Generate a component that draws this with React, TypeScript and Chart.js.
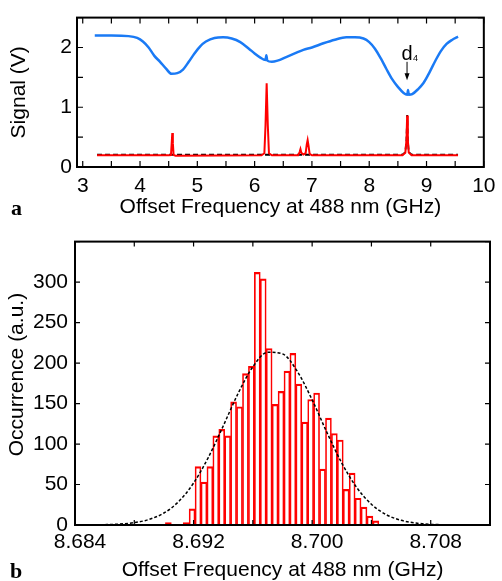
import React, { useEffect, useRef } from 'react';
import { Chart, registerables } from 'chart.js';
Chart.register(...registerables);

const FONT = '"Liberation Sans", Arial, Helvetica, sans-serif';
const SERIF = '"Liberation Serif", "Times New Roman", serif';
const BLUE = '#1a7af5';
const RED = '#ff0000';

// ---------- Panel a ----------
const blueX = [3.21, 3.5, 3.8, 3.95, 4.05, 4.15, 4.25, 4.35, 4.45, 4.55, 4.65, 4.75, 4.85, 4.95, 5.05, 5.15, 5.3, 5.45, 5.6, 5.75, 5.9, 6.0, 6.1, 6.19, 6.205, 6.22, 6.3, 6.4, 6.55, 6.7, 6.85, 7.0, 7.2, 7.4, 7.6, 7.75, 7.9, 8.0, 8.1, 8.2, 8.3, 8.4, 8.5, 8.6, 8.665, 8.677, 8.69, 8.75, 8.85, 8.95, 9.05, 9.15, 9.25, 9.35, 9.45, 9.55];
const blueY = [2.20, 2.20, 2.19, 2.16, 2.10, 2.00, 1.86, 1.76, 1.65, 1.56, 1.57, 1.63, 1.76, 1.90, 2.02, 2.10, 2.16, 2.17, 2.15, 2.09, 1.98, 1.90, 1.83, 1.79, 1.87, 1.78, 1.76, 1.78, 1.84, 1.90, 1.96, 2.00, 2.07, 2.13, 2.17, 2.17, 2.15, 2.09, 1.98, 1.82, 1.64, 1.47, 1.34, 1.24, 1.21, 1.29, 1.21, 1.22, 1.30, 1.41, 1.58, 1.77, 1.94, 2.06, 2.13, 2.18];

const redX = [3.25, 4.50, 4.54, 4.553, 4.563, 4.573, 4.586, 4.62, 6.12, 6.17, 6.19, 6.21, 6.23, 6.25, 6.30, 6.76, 6.785, 6.80, 6.815, 6.85, 6.89, 6.91, 6.925, 6.94, 6.96, 7.00, 8.58, 8.63, 8.65, 8.662, 8.674, 8.69, 8.74, 9.55];
const redY = [0.195, 0.195, 0.20, 0.40, 0.57, 0.40, 0.20, 0.19, 0.195, 0.23, 0.70, 1.40, 0.70, 0.23, 0.195, 0.195, 0.25, 0.30, 0.24, 0.21, 0.23, 0.38, 0.45, 0.36, 0.22, 0.195, 0.195, 0.24, 0.45, 0.86, 0.45, 0.24, 0.195, 0.195];

const blackX = [3.25, 8.58, 8.63, 8.65, 8.662, 8.674, 8.69, 8.74, 9.55];
const blackY = [0.205, 0.205, 0.25, 0.45, 0.87, 0.45, 0.25, 0.205, 0.205];

const topXTicks = [3, 3.5, 4, 4.5, 5, 5.5, 6, 6.5, 7, 7.5, 8, 8.5, 9, 9.5, 10];
const topXLabels = [3, 4, 5, 6, 7, 8, 9, 10];
const topYTicks = [0, 0.5, 1, 1.5, 2, 2.5];
const topYLabels = [0, 1, 2];

const annotX = 8.66;
const annotTextY = 1.79;
const arrowFromY = 1.76;
const arrowToY = 1.45;

// ---------- Panel b ----------
const binCenters = [8.6903, 8.6907, 8.6911, 8.6915, 8.6919, 8.6923, 8.6927, 8.6931, 8.6935, 8.6939, 8.6943, 8.6947, 8.6951, 8.6955, 8.6959, 8.6963, 8.6967, 8.6971, 8.6975, 8.6979, 8.6983, 8.6987, 8.6991, 8.6995, 8.6999, 8.7003, 8.7007, 8.7011, 8.7015, 8.7019, 8.7023, 8.7027, 8.7031, 8.7035, 8.7039, 8.7043];
const binCounts = [3, 0, 0, 3, 20, 72, 53, 72, 110, 118, 110, 152, 146, 187, 196, 312, 304, 218, 149, 165, 190, 212, 174, 127, 155, 163, 69, 132, 113, 105, 44, 64, 33, 22, 11, 5];

const fitX = [8.684, 8.685, 8.686, 8.687, 8.688, 8.689, 8.690, 8.691, 8.692, 8.693, 8.694, 8.695, 8.696, 8.697, 8.698, 8.699, 8.700, 8.701, 8.702, 8.703, 8.704, 8.705, 8.706, 8.707, 8.708, 8.709, 8.710, 8.711, 8.712];
const fitY = [0.03, 0.12, 0.4, 1.1, 2.9, 6.9, 14.8, 29.1, 51.8, 83.6, 122.3, 162.3, 195.4, 213.3, 211.3, 189.7, 154.6, 114.2, 76.5, 46.5, 25.6, 12.8, 5.8, 2.4, 0.9, 0.3, 0.1, 0.03, 0.01];

const botXTicks = [8.684, 8.688, 8.692, 8.696, 8.700, 8.704, 8.708, 8.712];
const botXLabels = ['8.684', '8.692', '8.700', '8.708'];
const botYTicks = [0, 50, 100, 150, 200, 250, 300, 350];
const botYLabels = [0, 50, 100, 150, 200, 250, 300];

// ---------- plugins ----------
function frameTicks(len: number) {
  return {
    id: 'frameTicks',
    afterDatasetsDraw(chart: any) {
      const { ctx, chartArea: a, scales } = chart;
      ctx.save();
      ctx.strokeStyle = '#000';
      ctx.lineWidth = 1.2;
      ctx.beginPath();
      for (const t of scales.x.ticks) {
        const px = scales.x.getPixelForValue(t.value);
        ctx.moveTo(px, a.bottom);
        ctx.lineTo(px, a.bottom - len);
        ctx.moveTo(px, a.top);
        ctx.lineTo(px, a.top + len);
      }
      for (const t of scales.y.ticks) {
        const py = scales.y.getPixelForValue(t.value);
        ctx.moveTo(a.left, py);
        ctx.lineTo(a.left + len, py);
        ctx.moveTo(a.right, py);
        ctx.lineTo(a.right - len, py);
      }
      ctx.stroke();
      ctx.lineWidth = 2;
      ctx.strokeRect(a.left, a.top, a.right - a.left, a.bottom - a.top);
      ctx.restore();
    },
  };
}

function panelLabel(text: string, x: number, y: number) {
  return {
    id: 'panelLabel',
    afterDraw(chart: any) {
      const { ctx } = chart;
      ctx.save();
      ctx.fillStyle = '#000';
      ctx.font = `bold 22px ${SERIF}`;
      ctx.textAlign = 'left';
      ctx.textBaseline = 'alphabetic';
      ctx.fillText(text, x, y);
      ctx.restore();
    },
  };
}

const annotPlugin = {
  id: 'annot',
  afterDatasetsDraw(chart: any) {
    const { ctx, scales } = chart;
    const px = scales.x.getPixelForValue(annotX);
    const ty = scales.y.getPixelForValue(annotTextY);
    const a0 = scales.y.getPixelForValue(arrowFromY);
    const a1 = scales.y.getPixelForValue(arrowToY);
    ctx.save();
    ctx.fillStyle = '#000';
    ctx.strokeStyle = '#000';
    ctx.font = `20px ${FONT}`;
    ctx.textAlign = 'center';
    ctx.textBaseline = 'alphabetic';
    ctx.fillText('d', px, ty);
    ctx.font = `9px ${FONT}`;
    ctx.textAlign = 'left';
    ctx.fillText('4', px + 6, ty + 1);
    ctx.lineWidth = 1;
    ctx.beginPath();
    ctx.moveTo(px, a0);
    ctx.lineTo(px, a1 - 6);
    ctx.stroke();
    ctx.beginPath();
    ctx.moveTo(px - 2.5, a1 - 7);
    ctx.lineTo(px + 2.5, a1 - 7);
    ctx.lineTo(px, a1);
    ctx.closePath();
    ctx.fill();
    ctx.restore();
  },
};

const tickFont = { family: FONT, size: 21 };
const titleFont = { family: FONT, size: 21, lineHeight: 1 };

function pts(xs: number[], ys: number[]) {
  return xs.map((x, i) => ({ x, y: ys[i] }));
}

export default function App() {
  const topRef = useRef<HTMLCanvasElement>(null);
  const botRef = useRef<HTMLCanvasElement>(null);

  useEffect(() => {
    const top = new Chart(topRef.current as HTMLCanvasElement, {
      type: 'scatter',
      data: {
        datasets: [
          { data: pts(blueX, blueY), showLine: true, borderColor: BLUE, borderWidth: 2.5, pointRadius: 0, cubicInterpolationMode: 'monotone' } as any,
          { data: pts(redX, redY), showLine: true, borderColor: RED, borderWidth: 2, pointRadius: 0, tension: 0 } as any,
          { data: pts(blackX, blackY), showLine: true, borderColor: '#000', borderWidth: 1.8, borderDash: [5, 3], pointRadius: 0, tension: 0 } as any,
        ],
      },
      options: {
        responsive: false,
        animation: false,
        devicePixelRatio: 1,
        layout: { padding: { top: 13, right: 12, left: 0, bottom: 0 } },
        plugins: { legend: { display: false }, tooltip: { enabled: false } },
        scales: {
          x: {
            type: 'linear',
            min: 2.9,
            max: 10,
            grid: { display: false, drawTicks: false },
            border: { display: false },
            afterBuildTicks: (s: any) => { s.ticks = topXTicks.map((v) => ({ value: v })); },
            afterFit: (s: any) => { s.height = 55; },
            ticks: {
              autoSkip: false, maxRotation: 0, padding: 6.5, color: '#000', font: tickFont,
              callback: (v: any) => (topXLabels.includes(Number(v)) ? String(v) : ''),
            },
            title: { display: true, text: 'Offset Frequency at 488 nm (GHz)', color: '#000', font: titleFont, padding: { top: 0, bottom: 4.5 } },
          },
          y: {
            type: 'linear',
            min: 0,
            max: 2.5,
            grid: { display: false, drawTicks: false },
            border: { display: false },
            afterBuildTicks: (s: any) => { s.ticks = topYTicks.map((v) => ({ value: v })); },
            afterFit: (s: any) => { s.width = 77; },
            ticks: {
              autoSkip: false, padding: 5, color: '#000', font: tickFont,
              callback: (v: any) => (topYLabels.includes(Number(v)) ? String(v) : ''),
            },
            title: { display: true, text: 'Signal (V)', color: '#000', font: titleFont, padding: { top: 9, bottom: 0 } },
          },
        },
      } as any,
      plugins: [frameTicks(6), annotPlugin, panelLabel('a', 11, 215)],
    });

    const bot = new Chart(botRef.current as HTMLCanvasElement, {
      type: 'bar',
      data: {
        datasets: [
          {
            type: 'bar',
            data: pts(binCenters, binCounts),
            backgroundColor: 'rgba(255,255,255,0)',
            borderColor: RED,
            borderWidth: { left: 1, right: 1, top: 1.5, bottom: 0 },
            borderSkipped: 'start',
            barPercentage: 1,
            categoryPercentage: 1,
            order: 2,
          } as any,
          {
            type: 'line',
            data: pts(fitX, fitY),
            borderColor: '#000',
            borderWidth: 1.5,
            borderDash: [3, 2],
            pointRadius: 0,
            cubicInterpolationMode: 'monotone',
            fill: false,
            order: 1,
          } as any,
        ],
      },
      options: {
        responsive: false,
        animation: false,
        devicePixelRatio: 1,
        layout: { padding: { top: 6, right: 12, left: 0, bottom: 0 } },
        plugins: { legend: { display: false }, tooltip: { enabled: false } },
        scales: {
          x: {
            type: 'linear',
            offset: false,
            min: 8.684,
            max: 8.712,
            grid: { display: false, drawTicks: false, offset: false },
            border: { display: false },
            afterBuildTicks: (s: any) => { s.ticks = botXTicks.map((v) => ({ value: v })); },
            afterFit: (s: any) => { s.height = 56; },
            ticks: {
              autoSkip: false, maxRotation: 0, padding: 5, labelOffset: 5, color: '#000', font: tickFont,
              callback: (v: any) => { const t = Number(v).toFixed(3); return botXLabels.includes(t) ? t : ''; },
            },
            title: { display: true, text: 'Offset Frequency at 488 nm (GHz)', color: '#000', font: titleFont, padding: { top: 0, bottom: 0 } },
          },
          y: {
            type: 'linear',
            min: 0,
            max: 350,
            grid: { display: false, drawTicks: false },
            border: { display: false },
            afterBuildTicks: (s: any) => { s.ticks = botYTicks.map((v) => ({ value: v })); },
            afterFit: (s: any) => { s.width = 75; },
            ticks: {
              autoSkip: false, padding: 7, color: '#000', font: tickFont,
              callback: (v: any) => (botYLabels.includes(Number(v)) ? String(v) : ''),
            },
            title: { display: true, text: '   Occurrence (a.u.)', color: '#000', font: titleFont, padding: { top: 6.5, bottom: 0 } },
          },
        },
      } as any,
      plugins: [frameTicks(5), panelLabel('b', 10, 356)],
    });

    return () => {
      top.destroy();
      bot.destroy();
    };
  }, []);

  return (
    <div style={{ position: 'absolute', left: 0, top: 0, width: 502, height: 581, background: '#fff' }}>
      <canvas ref={topRef} width={502} height={222} style={{ position: 'absolute', left: 0, top: 0, width: 502, height: 222 }} />
      <canvas ref={botRef} width={502} height={359} style={{ position: 'absolute', left: 0, top: 222, width: 502, height: 359 }} />
    </div>
  );
}
